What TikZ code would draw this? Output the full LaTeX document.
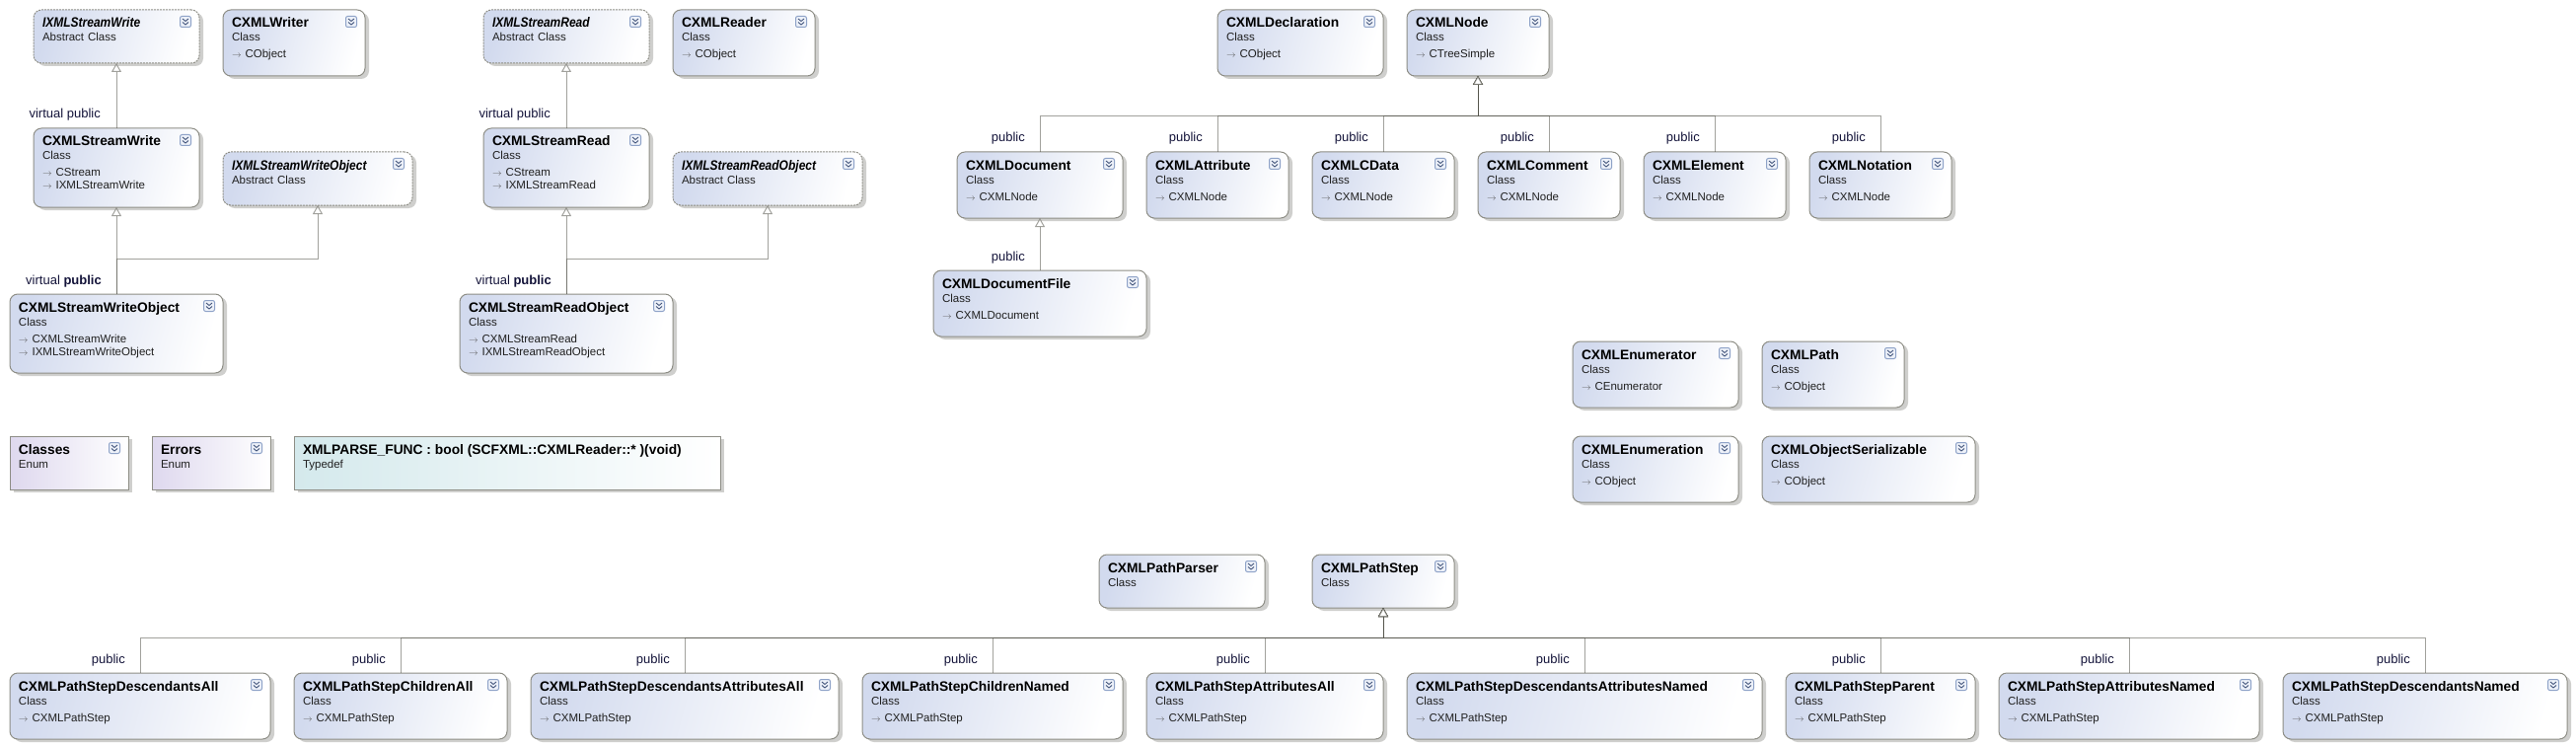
\documentclass[tikz,border=0pt]{standalone}
\usepackage{fontspec}
\setmainfont{Liberation Sans}
\usepackage{pgf, tikz}
\usetikzlibrary{arrows.meta, shadows}
\pgfdeclarelayer{edgelayer}
\pgfdeclarelayer{nodelayer}
\pgfsetlayers{nodelayer,edgelayer,main}
\definecolor{boxline}{HTML}{8E8E86}
\definecolor{boxshadow}{HTML}{CFCFCD}
\definecolor{classleft}{HTML}{D2DAEE}
\definecolor{enumleft}{HTML}{DED8EE}
\definecolor{typedefleft}{HTML}{D4E9EC}
\definecolor{foldline}{HTML}{8FA3C8}
\definecolor{foldfill}{HTML}{EDF1F9}
\definecolor{foldmark}{HTML}{46587E}
\definecolor{edgeline}{HTML}{55554C}
\definecolor{subtext}{HTML}{202020}
\definecolor{labeltext}{HTML}{14143A}
\newcommand{\boxtitle}[1]{{\fontsize{13.8pt}{14pt}\selectfont\bfseries\color{black}#1}}
\newcommand{\abstitle}[1]{\scalebox{0.87}[1]{\fontsize{13.8pt}{14pt}\selectfont\bfseries\itshape\color{black}#1}}
\newcommand{\basearrow}{{\color{black!65}\scalebox{0.8}{$\rightarrow$}}\hspace{4pt}}
\tikzstyle{foldable}=[path picture={
	\coordinate (fold) at ([xshift=-14pt,yshift=-12pt]path picture bounding box.north east);
	\draw [draw=foldline, fill=foldfill, line width=1pt, rounded corners=2pt, solid] ([shift={(-5.5pt,-5.5pt)}]fold) rectangle ([shift={(5.5pt,5.5pt)}]fold);
	\draw [draw=foldmark, line width=0.9pt, solid, sharp corners] ([shift={(-3pt,3pt)}]fold) -- ([shift={(0pt,0.5pt)}]fold) -- ([shift={(3pt,3pt)}]fold);
	\draw [draw=foldmark, line width=0.9pt, solid, sharp corners] ([shift={(-3pt,-0.5pt)}]fold) -- ([shift={(0pt,-3pt)}]fold) -- ([shift={(3pt,-0.5pt)}]fold);
}]
\tikzstyle{plainbox}=[rectangle, anchor=north west, draw=boxline, line width=1pt, outer sep=0pt, inner xsep=9pt, inner ysep=0pt, align=left, text=subtext, text height=18pt, font=\fontsize{11.5pt}{14pt}\selectfont, shading=axis, right color=white, drop shadow={shadow xshift=4pt, shadow yshift=-3pt, opacity=1, fill=boxshadow}]
\tikzstyle{classbox}=[style=plainbox, style=foldable, left color=classleft, right color=white, shading angle=75, rounded corners=8pt]
\tikzstyle{absbox}=[style=classbox, dash pattern=on 2pt off 1pt]
\tikzstyle{enumbox}=[style=plainbox, style=foldable, left color=enumleft, right color=white]
\tikzstyle{typedefbox}=[style=plainbox, left color=typedefleft, right color=white]
\tikzstyle{short}=[text depth=36pt]
\tikzstyle{medium}=[text depth=49pt]
\tikzstyle{tall}=[text depth=62pt]
\tikzstyle{inheritedge}=[draw=edgeline, draw opacity=0.55, line width=1pt, -{Triangle[open, length=9pt, width=10pt, fill=white]}]
\tikzstyle{edgelabel}=[anchor=base east, inner sep=0pt, text=labeltext, font=\fontsize{13pt}{14pt}\selectfont]
\begin{document}
\begin{tikzpicture}[x=1pt, y=-1pt]
	\useasboundingbox (0, 0) rectangle (2611, 757);
	\begin{pgfonlayer}{nodelayer}
		\node [style=absbox, style=short, text width=150pt] (iwrite) at (34, 10) {\abstitle{IXMLStreamWrite}\\Abstract Class};
		\node [style=classbox, style=medium, text width=126pt] (writer) at (226, 10) {\boxtitle{CXMLWriter}\\Class\\[3pt]\basearrow CObject};
		\node [style=classbox, style=tall, text width=150pt] (write) at (34, 130) {\boxtitle{CXMLStreamWrite}\\Class\\[3pt]\basearrow CStream\\[-1pt]\basearrow IXMLStreamWrite};
		\node [style=absbox, style=short, text width=174pt] (iwriteobj) at (226, 154) {\abstitle{IXMLStreamWriteObject}\\Abstract Class};
		\node [style=classbox, style=tall, text width=198pt] (writeobj) at (10, 298) {\boxtitle{CXMLStreamWriteObject}\\Class\\[3pt]\basearrow CXMLStreamWrite\\[-1pt]\basearrow IXMLStreamWriteObject};
		\node [style=absbox, style=short, text width=150pt] (iread) at (490, 10) {\abstitle{IXMLStreamRead}\\Abstract Class};
		\node [style=classbox, style=medium, text width=126pt] (reader) at (682, 10) {\boxtitle{CXMLReader}\\Class\\[3pt]\basearrow CObject};
		\node [style=classbox, style=tall, text width=150pt] (read) at (490, 130) {\boxtitle{CXMLStreamRead}\\Class\\[3pt]\basearrow CStream\\[-1pt]\basearrow IXMLStreamRead};
		\node [style=absbox, style=short, text width=174pt] (ireadobj) at (682, 154) {\abstitle{IXMLStreamReadObject}\\Abstract Class};
		\node [style=classbox, style=tall, text width=198pt] (readobj) at (466, 298) {\boxtitle{CXMLStreamReadObject}\\Class\\[3pt]\basearrow CXMLStreamRead\\[-1pt]\basearrow IXMLStreamReadObject};
		\node [style=enumbox, style=short, text width=102pt] (classes) at (10, 442) {\boxtitle{Classes}\\Enum};
		\node [style=enumbox, style=short, text width=102pt] (errors) at (154, 442) {\boxtitle{Errors}\\Enum};
		\node [style=typedefbox, style=short, text width=414pt] (parsefunc) at (298, 442) {\boxtitle{XMLPARSE\_FUNC : bool (SCFXML::CXMLReader::* )(void)}\\Typedef};
		\node [style=classbox, style=medium, text width=150pt] (declaration) at (1234, 10) {\boxtitle{CXMLDeclaration}\\Class\\[3pt]\basearrow CObject};
		\node [style=classbox, style=medium, text width=126pt] (xmlnode) at (1426, 10) {\boxtitle{CXMLNode}\\Class\\[3pt]\basearrow CTreeSimple};
		\node [style=classbox, style=medium, text width=150pt] (document) at (970, 154) {\boxtitle{CXMLDocument}\\Class\\[3pt]\basearrow CXMLNode};
		\node [style=classbox, style=medium, text width=126pt] (attribute) at (1162, 154) {\boxtitle{CXMLAttribute}\\Class\\[3pt]\basearrow CXMLNode};
		\node [style=classbox, style=medium, text width=126pt] (cdata) at (1330, 154) {\boxtitle{CXMLCData}\\Class\\[3pt]\basearrow CXMLNode};
		\node [style=classbox, style=medium, text width=126pt] (comment) at (1498, 154) {\boxtitle{CXMLComment}\\Class\\[3pt]\basearrow CXMLNode};
		\node [style=classbox, style=medium, text width=126pt] (element) at (1666, 154) {\boxtitle{CXMLElement}\\Class\\[3pt]\basearrow CXMLNode};
		\node [style=classbox, style=medium, text width=126pt] (notation) at (1834, 154) {\boxtitle{CXMLNotation}\\Class\\[3pt]\basearrow CXMLNode};
		\node [style=classbox, style=medium, text width=198pt] (documentfile) at (946, 274) {\boxtitle{CXMLDocumentFile}\\Class\\[3pt]\basearrow CXMLDocument};
		\node [style=classbox, style=medium, text width=150pt] (enumerator) at (1594, 346) {\boxtitle{CXMLEnumerator}\\Class\\[3pt]\basearrow CEnumerator};
		\node [style=classbox, style=medium, text width=126pt] (xmlpath) at (1786, 346) {\boxtitle{CXMLPath}\\Class\\[3pt]\basearrow CObject};
		\node [style=classbox, style=medium, text width=150pt] (enumeration) at (1594, 442) {\boxtitle{CXMLEnumeration}\\Class\\[3pt]\basearrow CObject};
		\node [style=classbox, style=medium, text width=198pt] (serializable) at (1786, 442) {\boxtitle{CXMLObjectSerializable}\\Class\\[3pt]\basearrow CObject};
		\node [style=classbox, style=short, text width=150pt] (pathparser) at (1114, 562) {\boxtitle{CXMLPathParser}\\Class};
		\node [style=classbox, style=short, text width=126pt] (pathstep) at (1330, 562) {\boxtitle{CXMLPathStep}\\Class};
		\node [style=classbox, style=medium, text width=246pt] (descall) at (10, 682) {\boxtitle{CXMLPathStepDescendantsAll}\\Class\\[3pt]\basearrow CXMLPathStep};
		\node [style=classbox, style=medium, text width=198pt] (childall) at (298, 682) {\boxtitle{CXMLPathStepChildrenAll}\\Class\\[3pt]\basearrow CXMLPathStep};
		\node [style=classbox, style=medium, text width=294pt] (descattrall) at (538, 682) {\boxtitle{CXMLPathStepDescendantsAttributesAll}\\Class\\[3pt]\basearrow CXMLPathStep};
		\node [style=classbox, style=medium, text width=246pt] (childnamed) at (874, 682) {\boxtitle{CXMLPathStepChildrenNamed}\\Class\\[3pt]\basearrow CXMLPathStep};
		\node [style=classbox, style=medium, text width=222pt] (attrall) at (1162, 682) {\boxtitle{CXMLPathStepAttributesAll}\\Class\\[3pt]\basearrow CXMLPathStep};
		\node [style=classbox, style=medium, text width=342pt] (descattrnamed) at (1426, 682) {\boxtitle{CXMLPathStepDescendantsAttributesNamed}\\Class\\[3pt]\basearrow CXMLPathStep};
		\node [style=classbox, style=medium, text width=174pt] (parent) at (1810, 682) {\boxtitle{CXMLPathStepParent}\\Class\\[3pt]\basearrow CXMLPathStep};
		\node [style=classbox, style=medium, text width=246pt] (attrnamed) at (2026, 682) {\boxtitle{CXMLPathStepAttributesNamed}\\Class\\[3pt]\basearrow CXMLPathStep};
		\node [style=classbox, style=medium, text width=270pt] (descnamed) at (2314, 682) {\boxtitle{CXMLPathStepDescendantsNamed}\\Class\\[3pt]\basearrow CXMLPathStep};
	\end{pgfonlayer}
	\coordinate (writebus) at (322, 262);
	\coordinate (readbus) at (778, 262);
	\coordinate (nodebus) at (1498, 118);
	\coordinate (stepbus) at (1402, 646);
	\begin{pgfonlayer}{edgelayer}
		\draw [style=inheritedge] (write.north) to (iwrite.south);
		\draw [style=inheritedge] (writeobj.north) to (write.south);
		\draw [style=inheritedge] (writeobj.north) |- (writebus) -- (iwriteobj.south);
		\draw [style=inheritedge] (read.north) to (iread.south);
		\draw [style=inheritedge] (readobj.north) to (read.south);
		\draw [style=inheritedge] (readobj.north) |- (readbus) -- (ireadobj.south);
		\draw [style=inheritedge] (document.north) |- (nodebus) -- (xmlnode.south);
		\draw [style=inheritedge] (attribute.north) |- (nodebus) -- (xmlnode.south);
		\draw [style=inheritedge] (cdata.north) |- (nodebus) -- (xmlnode.south);
		\draw [style=inheritedge] (comment.north) |- (nodebus) -- (xmlnode.south);
		\draw [style=inheritedge] (element.north) |- (nodebus) -- (xmlnode.south);
		\draw [style=inheritedge] (notation.north) |- (nodebus) -- (xmlnode.south);
		\draw [style=inheritedge] (documentfile.north) to (document.south);
		\draw [style=inheritedge] (descall.north) |- (stepbus) -- (pathstep.south);
		\draw [style=inheritedge] (childall.north) |- (stepbus) -- (pathstep.south);
		\draw [style=inheritedge] (descattrall.north) |- (stepbus) -- (pathstep.south);
		\draw [style=inheritedge] (childnamed.north) |- (stepbus) -- (pathstep.south);
		\draw [style=inheritedge] (attrall.north) |- (stepbus) -- (pathstep.south);
		\draw [style=inheritedge] (descattrnamed.north) |- (stepbus) -- (pathstep.south);
		\draw [style=inheritedge] (parent.north) |- (stepbus) -- (pathstep.south);
		\draw [style=inheritedge] (attrnamed.north) |- (stepbus) -- (pathstep.south);
		\draw [style=inheritedge] (descnamed.north) |- (stepbus) -- (pathstep.south);
	\end{pgfonlayer}
	\node [style=edgelabel] (lwrite) at (102, 120) {virtual public};
	\node [style=edgelabel] (lwriteobj) at (103, 288) {virtual \textbf{public}};
	\node [style=edgelabel] (lread) at (558, 120) {virtual public};
	\node [style=edgelabel] (lreadobj) at (559, 288) {virtual \textbf{public}};
	\node [style=edgelabel] (ldocument) at (1039, 144) {public};
	\node [style=edgelabel] (lattribute) at (1219, 144) {public};
	\node [style=edgelabel] (lcdata) at (1387, 144) {public};
	\node [style=edgelabel] (lcomment) at (1555, 144) {public};
	\node [style=edgelabel] (lelement) at (1723, 144) {public};
	\node [style=edgelabel] (lnotation) at (1891, 144) {public};
	\node [style=edgelabel] (ldocumentfile) at (1039, 264) {public};
	\node [style=edgelabel] (ldescall) at (127, 672) {public};
	\node [style=edgelabel] (lchildall) at (391, 672) {public};
	\node [style=edgelabel] (ldescattrall) at (679, 672) {public};
	\node [style=edgelabel] (lchildnamed) at (991, 672) {public};
	\node [style=edgelabel] (lattrall) at (1267, 672) {public};
	\node [style=edgelabel] (ldescattrnamed) at (1591, 672) {public};
	\node [style=edgelabel] (lparent) at (1891, 672) {public};
	\node [style=edgelabel] (lattrnamed) at (2143, 672) {public};
	\node [style=edgelabel] (ldescnamed) at (2443, 672) {public};
\end{tikzpicture}
\end{document}
